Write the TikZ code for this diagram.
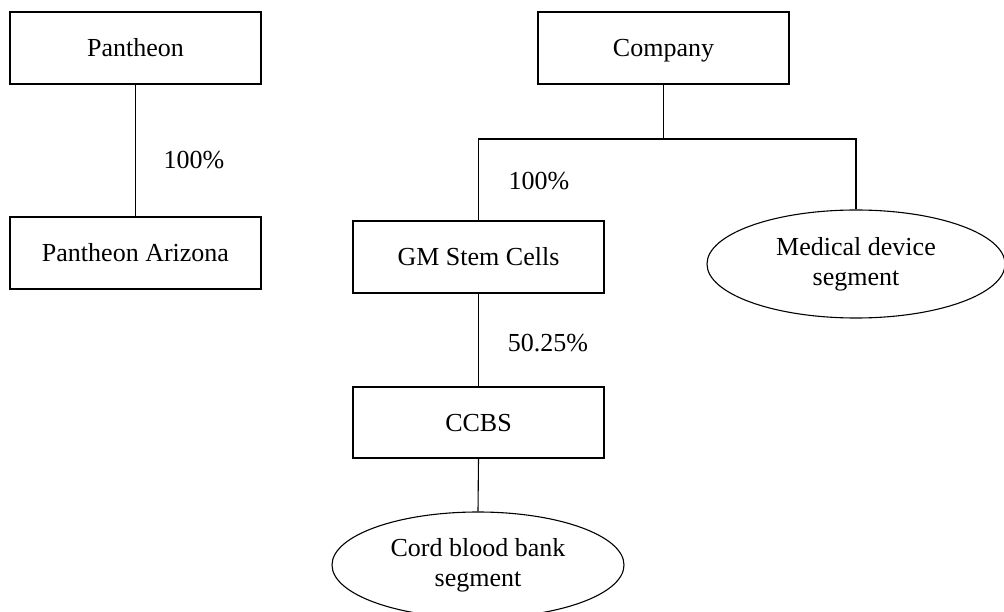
\documentclass[tikz,border=0pt]{standalone}
\usepackage{fontspec}
\setmainfont{Liberation Serif}
\usetikzlibrary{shapes.geometric}
\begin{document}
\begin{tikzpicture}[x=1pt,y=-1pt,
  box/.style={draw,line width=1.1pt,rectangle,minimum width=251pt,minimum height=72pt,inner sep=0pt,text height=21pt,text depth=3pt,font=\fontsize{26}{30}\selectfont},
  oval/.style={draw,line width=1.1pt,ellipse,inner sep=0pt,align=center,font=\fontsize{26}{30}\selectfont},
  lbl/.style={font=\fontsize{26}{30}\selectfont,inner sep=0pt},
  link/.style={line width=1.1pt}]
\useasboundingbox (0,0) rectangle (1004,612);
\node[box] (P) at (135.5,48) {Pantheon};
\node[box] (PA) at (135.5,253) {Pantheon Arizona};
\node[box] (C) at (663.5,48) {Company};
\node[box] (GM) at (478.5,257) {GM Stem Cells};
\node[box,minimum height=71pt] (CC) at (478.5,422.5) {CCBS};
\node[oval,minimum width=298pt,minimum height=108pt] (MD) at (856,264) {Medical device\\segment};
\node[oval,minimum width=292pt,minimum height=106pt] (CB) at (478,565) {Cord blood bank\\segment};
\coordinate (j) at (663.5,139);
\draw[link] (P.south) -- (PA.north);
\draw[link] (C.south) -- (j);
\draw[link] (GM.north) |- (j) -| (MD.north);
\draw[link] (GM.south) -- (CC.north);
\draw[link] (CC.south) -- (CB.north);
\node[lbl] (l1) at (194,160) {100\%};
\node[lbl] (l2) at (539,181) {100\%};
\node[lbl] (l3) at (548,343) {50.25\%};
\end{tikzpicture}
\end{document}
